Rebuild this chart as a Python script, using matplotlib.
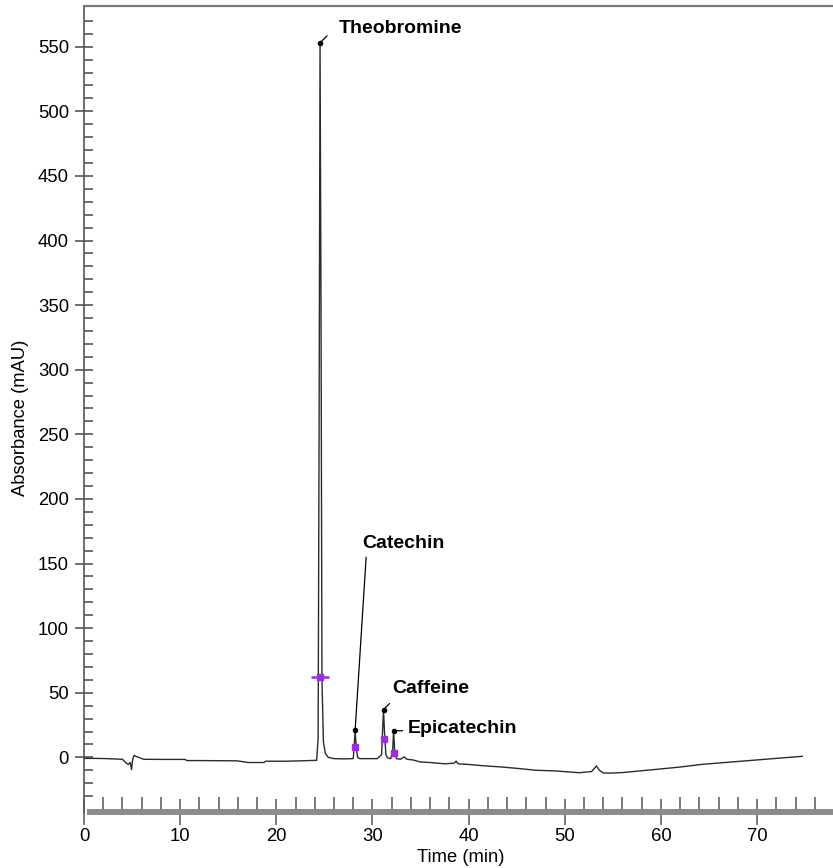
import numpy as np
import matplotlib
matplotlib.use("Agg")
import matplotlib.pyplot as plt
from matplotlib.ticker import MultipleLocator, FixedLocator

plt.rcParams["font.family"] = ["Liberation Sans", "DejaVu Sans"]

# chromatogram trace (time in min, absorbance in mAU)
time_min = [0, 1, 2, 3, 4, 4.4, 4.6, 4.8, 4.95, 5.05, 5.2, 5.5, 6.2, 8, 10.5, 10.7,
            12, 15.9, 17.1, 18.7, 18.9, 21, 23, 24.2, 24.35, 24.45, 24.55, 24.65,
            24.75, 24.9, 25.1, 25.4, 26, 27, 28.0, 28.1, 28.2, 28.3, 28.45, 28.7,
            29.5, 30.5, 30.95, 31.05, 31.15, 31.25, 31.4, 31.6, 31.9, 32.1, 32.2,
            32.3, 32.5, 32.9, 33.3, 33.6, 34.2, 35, 36, 37.5, 38.5, 38.7, 38.9, 40,
            41.5, 43.5, 45, 47, 49, 51.5, 52.8, 53.3, 53.6, 54.0, 54.6, 56, 59.1,
            62, 64.3, 67, 69.5, 72, 74.7]
absorbance = [-0.8, -0.8, -0.9, -1.2, -1.5, -4.5, -5.5, -4, -9.5, -2, 1.5, 0.5, -1.5,
              -1.6, -1.6, -2.5, -2.5, -2.7, -4, -4, -3, -3, -2.6, -2.3, 15, 250, 553,
              350, 60, 12, 3, 0, -1, -1.2, -1, 8, 21, 9, 0, -1, -1, -1, 2, 20, 37,
              20, 2, -0.5, -1, 5, 20.6, 6, -1, -1.5, 0.3, -1.5, -2, -3.6, -4, -5,
              -4.5, -2.9, -5, -5.5, -6.5, -7.5, -8.5, -10, -10.5, -11.9, -11, -6.7,
              -10, -12, -12.2, -11.8, -9.6, -7.5, -5.4, -3.8, -2.3, -0.8, 0.8]

# labelled peaks
peak_names = ["Theobromine", "Catechin", "Caffeine", "Epicatechin"]
peak_times = [24.55, 28.2, 31.15, 32.2]
peak_heights = [553, 21, 37, 20.6]
mark_heights = [62, 7.7, 14.5, 3.6]   # purple integration marks

# leader line end / label offsets in pixels from the apex
leader_off = [(7, 7), (11, 173), (6, 6), (9, 0)]
label_off = [(19, 14), (7, 187), (9, 21), (14, 2)]

purple = "#9b30d9"
axis_col = "#555555"

fig = plt.figure(figsize=(8.33, 8.68), dpi=100)
ax = fig.add_axes([84 / 833, (868 - 812) / 868, 749 / 833, 806 / 868])

ax.plot(time_min, absorbance, color="#2b2b2b", linewidth=1.0, zorder=3)

# purple marks
ax.plot(peak_times[0], mark_heights[0], marker="_", markersize=13,
        markeredgewidth=1.8, color=purple, zorder=4)
ax.plot(peak_times, mark_heights, "s", markersize=4.3, color=purple, zorder=4)
# apex dots
ax.plot(peak_times, peak_heights, "o", markersize=3, color="black", zorder=5)

for name, t, h, lo, to in zip(peak_names, peak_times, peak_heights, leader_off, label_off):
    ax.annotate("", xy=(t, h), xytext=lo, textcoords="offset pixels",
                arrowprops=dict(arrowstyle="-", color="black", lw=0.9,
                                shrinkA=0, shrinkB=0))
    ax.annotate(name, xy=(t, h), xytext=to, textcoords="offset pixels",
                ha="left", va="center", fontsize=14, fontweight="bold")

ax.set_xlim(0, 77.9)
ax.set_ylim(-42.3, 581.5)

ax.xaxis.set_major_locator(MultipleLocator(10))
ax.xaxis.set_minor_locator(MultipleLocator(2))
ax.yaxis.set_major_locator(MultipleLocator(50))
ax.yaxis.set_minor_locator(FixedLocator(np.arange(-30, 571, 10)))

ax.tick_params(axis="y", which="major", direction="inout", length=13.5, width=1.2,
               color=axis_col, labelsize=13.3, pad=4)
ax.tick_params(axis="y", which="minor", direction="in", length=6.5, width=1.2,
               color=axis_col)
ax.tick_params(axis="x", which="major", direction="inout", length=19, width=1.1,
               color=axis_col, labelsize=13.3, pad=2)
ax.tick_params(axis="x", which="minor", direction="in", length=10.5, width=1.1,
               color=axis_col)

ax.spines["right"].set_visible(False)
ax.spines["top"].set_color("#777777")
ax.spines["top"].set_linewidth(1.6)
ax.spines["left"].set_color(axis_col)
ax.spines["left"].set_linewidth(1.2)
ax.spines["bottom"].set_color("#8c8c8c")
ax.spines["bottom"].set_linewidth(4.3)
ax.spines["bottom"].set_bounds(0.6, 77.9)

ax.set_xlabel("Time (min)", fontsize=13.2)
ax.set_ylabel("Absorbance (mAU)", fontsize=13.2)
ax.xaxis.set_label_coords(0.503, -0.046)
ax.yaxis.set_label_coords(-0.074, 0.489)

fig.savefig("out.png", dpi=100)
